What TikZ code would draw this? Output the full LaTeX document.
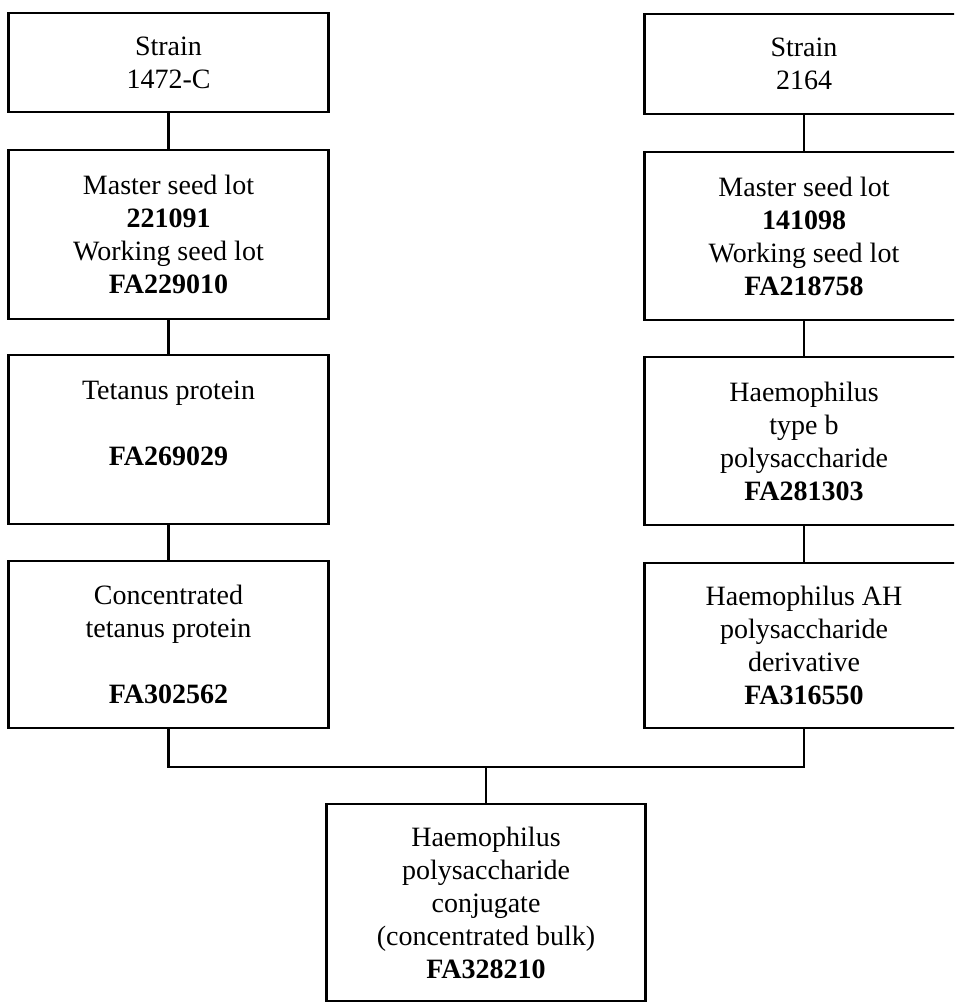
\documentclass[tikz,border=0pt]{standalone}
\usepackage{fontspec}
\setmainfont{Liberation Serif}
\usetikzlibrary{positioning}

\begin{document}
\begin{tikzpicture}[x=0.75pt, y=-0.75pt,
        box/.style={draw=black, line width=2.2pt, align=center, inner sep=0pt, minimum width=239.5pt, font=\fontsize{21}{24.75}\selectfont},
        link/.style={draw=black, line width=1.7pt}]
            \clip (0, 0) rectangle (954, 1003);

            % tetanus branch
            \node[box, minimum height=74.25pt] (s1) at (168.5, 62.5) {Strain\\1472-C};
            \node[box, minimum height=126.75pt] (m1) at (168.5, 234.5) {Master seed lot\\\textbf{221091}\\Working seed lot\\\textbf{FA229010}};
            \node[box, minimum height=126.75pt] (p1) at (168.5, 439.5) {Tetanus protein\\\mbox{}\\\textbf{FA269029}\\\mbox{}};
            \node[box, minimum height=125.25pt] (c1) at (168.5, 644.5) {Concentrated\\tetanus protein\\\mbox{}\\\textbf{FA302562}};

            % haemophilus branch
            \node[box, minimum height=75pt] (s2) at (804, 64) {Strain\\2164};
            \node[box, minimum height=126pt] (m2) at (804, 236) {Master seed lot\\\textbf{141098}\\Working seed lot\\\textbf{FA218758}};
            \node[box, minimum height=126pt] (p2) at (804, 441) {Haemophilus\\type b\\polysaccharide\\\textbf{FA281303}};
            \node[box, minimum height=123.75pt] (c2) at (804, 645.5) {Haemophilus AH\\polysaccharide\\derivative\\\textbf{FA316550}};

            % conjugate
            \node[box, minimum height=147.75pt] (bulk) at (486, 902.5) {Haemophilus\\polysaccharide\\conjugate\\(concentrated bulk)\\\textbf{FA328210}};
            \coordinate (join) at (486, 767);

            \draw[link] (s1) -- (m1);
            \draw[link] (m1) -- (p1);
            \draw[link] (p1) -- (c1);
            \draw[link] (s2) -- (m2);
            \draw[link] (m2) -- (p2);
            \draw[link] (p2) -- (c2);
            \draw[link] (c1.south) |- (join) -| (c2.south);
            \draw[link] (join) -- (bulk.north);
        \end{tikzpicture}
\end{document}
